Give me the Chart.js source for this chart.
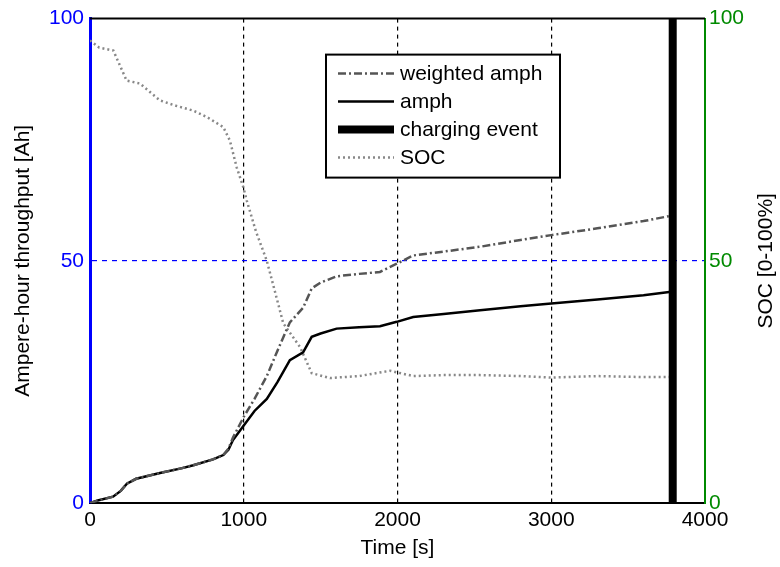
<!DOCTYPE html>
<html lang="en">
<head>
    <meta charset="UTF-8">
    <title>Ampere-hour throughput</title>
    <style>
        * {
            margin: 0;
            padding: 0;
            box-sizing: border-box;
        }

        body {
            background: #fff;
            width: 780px;
            height: 567px;
            overflow: hidden;
        }
    </style>
</head>
<body>
    <canvas id="ah-chart" width="780" height="567"></canvas>

    <script src="https://cdn.jsdelivr.net/npm/chart.js"></script>
    <script>
        // Data
        const timeAh = [0, 50, 150, 200, 240, 300, 455, 600, 672, 800, 867, 900, 930, 1000, 1070, 1150, 1220, 1300, 1386, 1442, 1500, 1604, 1750, 1886, 1995, 2102, 2300, 2537, 2800, 3000, 3300, 3600, 3780];
        const amph = [0, 0.5, 1.3, 2.5, 4, 5, 6.2, 7.2, 7.8, 9, 9.9, 11, 13, 16, 19, 21.5, 25, 29.5, 31.1, 34.3, 35, 36, 36.3, 36.5, 37.4, 38.4, 39, 39.8, 40.6, 41.2, 42, 42.9, 43.6];
        const weightedAmph = [0, 0.5, 1.3, 2.5, 4, 5, 6.2, 7.2, 7.8, 9, 9.9, 11.2, 13.5, 17.8, 21.5, 26.2, 31.5, 37.3, 40.3, 44.3, 45.5, 46.8, 47.3, 47.7, 49.4, 51.1, 51.9, 52.9, 54.3, 55.3, 56.7, 58.2, 59.3];

        const timeSoc = [0, 60, 152, 238, 325, 455, 560, 672, 759, 867, 910, 954, 997, 1019, 1080, 1149, 1200, 1257, 1366, 1442, 1561, 1750, 1951, 2102, 2300, 2537, 2800, 3000, 3300, 3600, 3780];
        const soc = [95.5, 94, 93.4, 87.2, 86.6, 83.1, 82, 81, 79.7, 77.6, 74.8, 69.3, 65.2, 62.5, 56, 50.1, 44, 37.1, 32.2, 26.8, 25.8, 26.2, 27.3, 26.2, 26.4, 26.4, 26.2, 25.9, 26.2, 26, 26];

        const chargeTime = [3790, 3790];
        const chargeLevel = [0, 100];

        const xTicks = [0, 1000, 2000, 3000, 4000];
        const yTicks = [0, 50, 100];

        const toPoints = (xs, ys) => xs.map((x, i) => ({ x: x, y: ys[i] }));

        const FONT = 'Liberation Sans, Arial, sans-serif';
        const BLUE = '#0000ff';
        const GREEN = '#008a00';

        // legend box, titles and top frame line
        const extras = {
            id: 'extras',
            afterDraw(chart) {
                const ctx = chart.ctx;
                const area = chart.chartArea;
                ctx.save();

                // top frame
                ctx.strokeStyle = '#000';
                ctx.lineWidth = 2;
                ctx.beginPath();
                ctx.moveTo(area.left, area.top);
                ctx.lineTo(area.right, area.top);
                ctx.stroke();

                // axis titles
                ctx.fillStyle = '#000';
                ctx.font = '21px ' + FONT;
                ctx.textAlign = 'center';
                ctx.textBaseline = 'middle';
                ctx.fillText('Time [s]', (area.left + area.right) / 2, 548);

                ctx.save();
                ctx.translate(23, (area.top + area.bottom) / 2);
                ctx.rotate(-Math.PI / 2);
                ctx.fillText('Ampere-hour throughput [Ah]', 0, 0);
                ctx.restore();

                ctx.save();
                ctx.translate(766, (area.top + area.bottom) / 2);
                ctx.rotate(-Math.PI / 2);
                ctx.fillText('SOC [0-100%]', 0, 0);
                ctx.restore();

                // legend
                const bx = area.left + 236, by = area.top + 36, bw = 234, bh = 123;
                ctx.fillStyle = '#fff';
                ctx.fillRect(bx, by, bw, bh);
                ctx.strokeStyle = '#000';
                ctx.lineWidth = 2;
                ctx.setLineDash([]);
                ctx.strokeRect(bx, by, bw, bh);

                ctx.textAlign = 'left';
                chart.data.datasets.forEach((ds, i) => {
                    const y = by + 19 + i * 28;
                    ctx.strokeStyle = ds.borderColor;
                    ctx.lineWidth = ds.borderWidth;
                    ctx.setLineDash(ds.borderDash || []);
                    ctx.beginPath();
                    ctx.moveTo(bx + 12, y);
                    ctx.lineTo(bx + 68, y);
                    ctx.stroke();
                    ctx.setLineDash([]);
                    ctx.fillStyle = '#000';
                    ctx.fillText(ds.label, bx + 74, y + 1);
                });

                ctx.restore();
            }
        };

        const ctx = document.getElementById('ah-chart').getContext('2d');
        new Chart(ctx, {
            type: 'line',
            data: {
                datasets: [{
                    label: 'weighted amph',
                    data: toPoints(timeAh, weightedAmph),
                    borderColor: '#555555',
                    borderWidth: 2.5,
                    borderDash: [8, 3, 2, 3],
                    yAxisID: 'y'
                }, {
                    label: 'amph',
                    data: toPoints(timeAh, amph),
                    borderColor: '#000000',
                    borderWidth: 2.5,
                    yAxisID: 'y'
                }, {
                    label: 'charging event',
                    data: toPoints(chargeTime, chargeLevel),
                    borderColor: '#000000',
                    borderWidth: 8,
                    yAxisID: 'y'
                }, {
                    label: 'SOC',
                    data: toPoints(timeSoc, soc),
                    borderColor: '#888888',
                    borderWidth: 2.5,
                    borderDash: [2, 3],
                    yAxisID: 'y2'
                }]
            },
            options: {
                responsive: false,
                animation: false,
                devicePixelRatio: 1,
                layout: { padding: { top: 18, left: 0, right: 0, bottom: 0 } },
                elements: {
                    point: { radius: 0 },
                    line: { tension: 0 }
                },
                plugins: {
                    legend: { display: false },
                    tooltip: { enabled: false }
                },
                scales: {
                    x: {
                        type: 'linear',
                        min: 0,
                        max: 4000,
                        afterBuildTicks: (s) => { s.ticks = xTicks.map(v => ({ value: v })); },
                        afterFit: (s) => { s.height = 64; },
                        ticks: {
                            color: '#000',
                            font: { family: FONT, size: 21 },
                            padding: 5,
                            maxRotation: 0,
                            autoSkip: false,
                            callback: (v) => String(v)
                        },
                        grid: {
                            drawTicks: false,
                            color: (c) => [1000, 2000, 3000].includes(c.tick && c.tick.value) ? '#000' : 'rgba(0,0,0,0)',
                            lineWidth: 1.2
                        },
                        border: { display: true, color: '#000', width: 2, dash: [4, 4] }
                    },
                    y: {
                        position: 'left',
                        min: 0,
                        max: 100,
                        afterBuildTicks: (s) => { s.ticks = yTicks.map(v => ({ value: v })); },
                        afterFit: (s) => { s.width = 90; },
                        ticks: {
                            color: BLUE,
                            font: { family: FONT, size: 21 },
                            padding: 6,
                            autoSkip: false
                        },
                        grid: {
                            drawTicks: false,
                            color: (c) => (c.tick && c.tick.value === 50) ? BLUE : 'rgba(0,0,0,0)',
                            lineWidth: 1.2
                        },
                        border: { display: true, color: BLUE, width: 3, dash: [5, 5] }
                    },
                    y2: {
                        position: 'right',
                        min: 0,
                        max: 100,
                        afterBuildTicks: (s) => { s.ticks = yTicks.map(v => ({ value: v })); },
                        afterFit: (s) => { s.width = 75; },
                        ticks: {
                            color: GREEN,
                            font: { family: FONT, size: 21 },
                            padding: 4,
                            autoSkip: false
                        },
                        grid: { display: false, drawTicks: false },
                        border: { display: true, color: GREEN, width: 2 }
                    }
                }
            },
            plugins: [extras]
        });
    </script>
</body>
</html>
